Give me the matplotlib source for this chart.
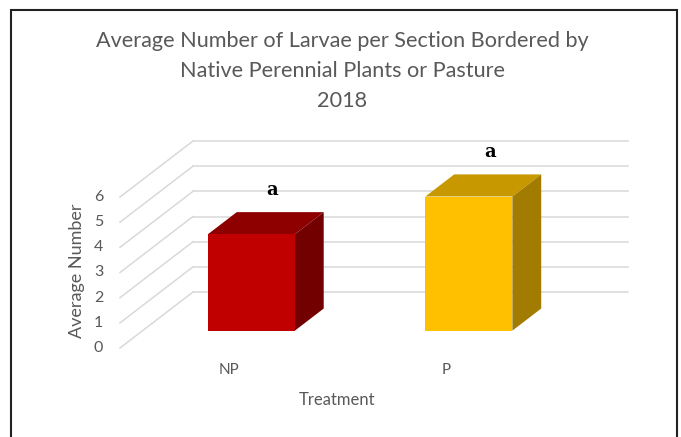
import matplotlib
matplotlib.use("Agg")
import matplotlib.pyplot as plt
from matplotlib.patches import Polygon, Rectangle

# data
categories = ["NP", "P"]
values = [3.83, 5.33]
letters = ["a", "a"]
yticks = [0, 1, 2, 3, 4, 5, 6]
front_colors = ["#C00000", "#FFC000"]
top_colors = ["#8E0000", "#C89800"]
side_colors = ["#730000", "#A27C00"]

W, H = 681, 437
fig = plt.figure(figsize=(W / 100, H / 100), dpi=100)
fig.patch.set_facecolor("white")

# front plane of the floor: x -0.5..1.5 -> px 120..555, y 0..6 -> px 348..197
ax = fig.add_axes([120 / W, (H - 348) / H, 435 / W, 151 / H])
ax.set_xlim(-0.5, 1.5)
ax.set_ylim(0, 6)
ax.axis("off")

# oblique depth offset (full depth) in data units
DX = 73 / 217.5
DY = 56 / 25.17
f1, f2 = 0.31, 0.705   # front / back of the columns
grid_c = "#D9D9D9"
text_c = "#595959"

# back wall and side wall gridlines
for v in yticks:
    ax.plot([-0.5 + DX, 1.5 + DX], [v + DY, v + DY], color=grid_c, lw=1.1,
            clip_on=False, zorder=1)
    ax.plot([-0.5, -0.5 + DX], [v, v + DY], color=grid_c, lw=1.1,
            clip_on=False, zorder=1)
    ax.annotate(str(v), xy=(-0.5, v), xytext=(-12, 0), textcoords="offset points",
                ha="right", va="center", fontsize=11.5, color=text_c,
                family="Lato", annotation_clip=False)

# 3d columns
bw = 0.4
xs = list(range(len(categories)))
for i, (x, v) in enumerate(zip(xs, values)):
    x0 = x - bw / 2 + f1 * DX
    x1 = x + bw / 2 + f1 * DX
    b0 = f1 * DY
    dx = (f2 - f1) * DX
    dy = (f2 - f1) * DY
    top = Polygon([(x0, v + b0), (x1, v + b0), (x1 + dx, v + b0 + dy), (x0 + dx, v + b0 + dy)],
                  closed=True, facecolor=top_colors[i], edgecolor="none", zorder=3, clip_on=False)
    side = Polygon([(x1, b0), (x1 + dx, b0 + dy), (x1 + dx, v + b0 + dy), (x1, v + b0)],
                   closed=True, facecolor=side_colors[i], edgecolor="none", zorder=3, clip_on=False)
    ax.add_patch(top)
    ax.add_patch(side)
    ax.bar(x + f1 * DX, v, width=bw, bottom=b0, color=front_colors[i], zorder=4, clip_on=False)
    # significance letter above the column
    ax.annotate(letters[i], xy=(x + (f1 + f2) / 2 * DX + 0.03, v + (f1 + f2) / 2 * DY),
                xytext=(0, 24), textcoords="offset points", ha="center", va="center",
                fontsize=13, fontweight="bold", family="DejaVu Serif",
                color="black", annotation_clip=False, zorder=5)
    ax.annotate(categories[i], xy=(x, 0), xytext=(0, -16), textcoords="offset points",
                ha="center", va="center", fontsize=11, color=text_c, family="Lato",
                annotation_clip=False)

fig.text(337 / W, 1 - 400 / H, "Treatment", ha="center", va="center",
         fontsize=12, color=text_c, family="Lato")
fig.text(77 / W, 1 - 271 / H, "Average Number", ha="center", va="center",
         rotation=90, fontsize=13, color=text_c, family="Lato")
fig.text(342 / W, 1 - 71 / H,
         "Average Number of Larvae per Section Bordered by\nNative Perennial Plants or Pasture\n2018",
         ha="center", va="center", fontsize=15.6, color=text_c, family="Lato",
         linespacing=1.65)

# outer frame
fig.patches.append(Rectangle((11 / W, -0.05), (677 - 11) / W, 1 - 10 / H + 0.05,
                             transform=fig.transFigure, fill=False,
                             edgecolor="#222222", lw=1.5))

fig.savefig("out.png", dpi=100)
